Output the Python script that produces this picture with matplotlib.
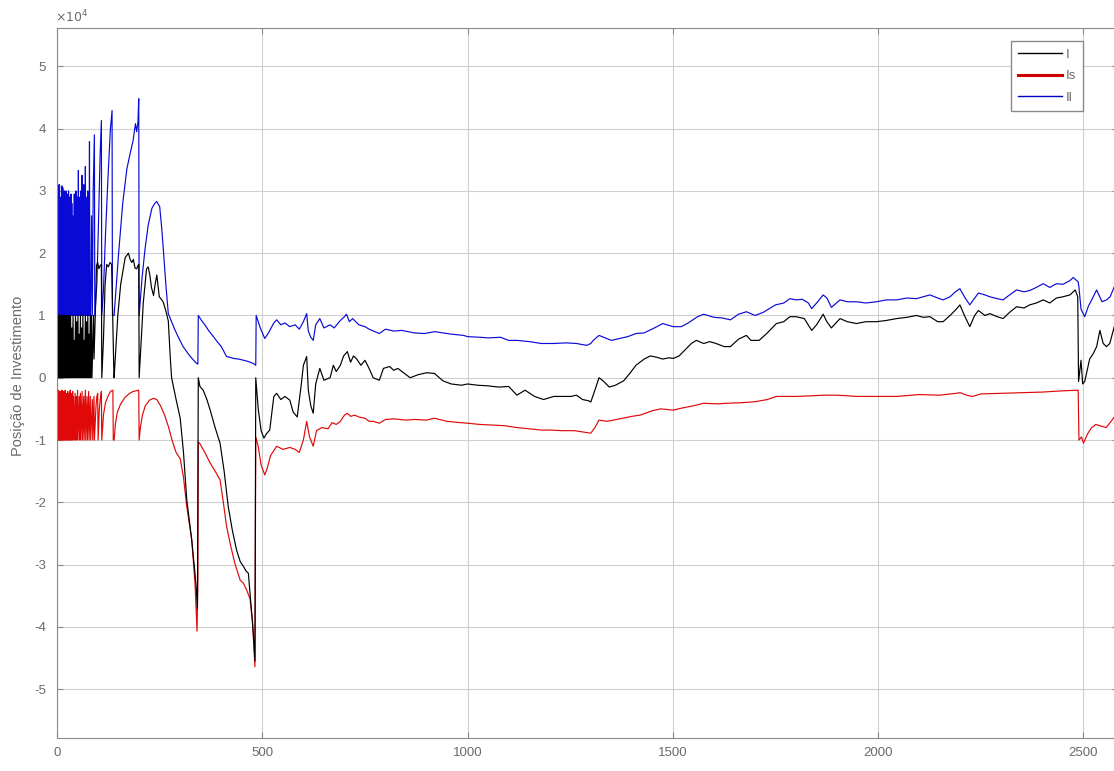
import numpy as np
import matplotlib
matplotlib.use('Agg')
import matplotlib.pyplot as plt
from matplotlib.ticker import FuncFormatter, MultipleLocator
from matplotlib.lines import Line2D

# valores, em unidades de 1e4
SCALE = 1e4

# Il (azul)
il_block_y = [3.1, 1.0, 3.1, 1.0, 3.05, 1.2, 3.1, 1.0, 2.9, 1.0,
              2.4, 1.0, 3.08, 1.0, 3.05, 1.0, 2.8, 1.0, 3.0, 1.0,
              2.7, 1.0, 3.0, 1.0, 2.2, 1.0, 2.95, 1.1, 3.0, 1.0,
              2.9, 1.0, 2.6, 1.0, 2.95, 1.0, 2.8, 1.0, 2.6, 1.0,
              2.1, 1.0, 2.95, 1.0, 2.7, 1.0, 3.0, 1.0, 2.75, 1.0,
              2.9, 1.0, 3.33, 1.0, 2.9, 1.0, 2.7, 1.0, 3.0, 1.0,
              2.6, 3.25, 1.0, 2.8, 1.0, 3.1, 1.0, 2.5, 1.0, 3.39,
              1.0, 2.9, 1.0, 2.6, 1.0, 3.0, 1.0, 2.2, 1.0, 3.79,
              1.0]
il_mid_x = [82, 84, 86, 88, 90, 91, 92, 97, 101, 105,
            108, 109, 113, 118, 124, 130, 134, 135, 139, 150,
            160, 170, 178, 185, 191, 194, 197, 199, 200, 207,
            214, 222, 231, 238, 243, 247, 250, 255, 259, 265,
            271, 279, 287, 297, 307, 320, 330, 340, 343, 344,
            352, 360, 370, 381, 390, 400, 413, 420, 430, 442,
            455, 466, 478, 484]
il_mid_y = [1.0, 2.6, 1.0, 3.0, 3.6, 3.9, 1.0, 1.5, 2.5, 3.6,
            4.13, 1.0, 1.4, 2.3, 3.2, 4.0, 4.29, 1.0, 1.0, 2.0,
            2.8, 3.35, 3.6, 3.8, 4.08, 3.95, 4.1, 4.48, 1.0, 1.6,
            2.05, 2.45, 2.72, 2.8, 2.83, 2.78, 2.75, 2.4, 2.05, 1.5,
            1.03, 0.9, 0.77, 0.63, 0.5, 0.38, 0.3, 0.23, 0.22, 1.0,
            0.92, 0.85, 0.75, 0.66, 0.58, 0.5, 0.34, 0.33, 0.31, 0.3,
            0.28, 0.26, 0.23, 0.2]
il_late_x = [485, 495, 506, 515, 528, 535, 545, 555, 567, 580,
             590, 600, 608, 612, 618, 624, 630, 640, 650, 665,
             675, 690, 700, 705, 712, 720, 735, 750, 760, 785,
             800, 820, 840, 870, 895, 920, 940, 960, 990, 1000,
             1030, 1050, 1080, 1100, 1120, 1150, 1180, 1210, 1240, 1265,
             1290, 1300, 1306, 1320, 1335, 1350, 1370, 1390, 1410, 1430,
             1455, 1475, 1501, 1520, 1535, 1560, 1575, 1600, 1620, 1640,
             1660, 1679, 1700, 1720, 1750, 1770, 1785, 1800, 1815, 1830,
             1838, 1850, 1866, 1875, 1886, 1907, 1925, 1947, 1970, 1996,
             2020, 2045, 2070, 2093, 2110, 2126, 2145, 2158, 2175, 2188,
             2199, 2210, 2223, 2244, 2260, 2272, 2290, 2304, 2320, 2337,
             2355, 2369, 2385, 2402, 2418, 2434, 2450, 2467, 2475, 2487,
             2489, 2494, 2503, 2512, 2520, 2532, 2545, 2556, 2565, 2575]
il_late_y = [1.0, 0.8, 0.63, 0.72, 0.88, 0.93, 0.85, 0.88, 0.82, 0.85,
             0.78, 0.9, 1.03, 0.75, 0.65, 0.6, 0.85, 0.95, 0.8, 0.85,
             0.8, 0.92, 0.98, 1.02, 0.9, 0.95, 0.85, 0.82, 0.78, 0.71,
             0.78, 0.75, 0.76, 0.72, 0.71, 0.74, 0.72, 0.7, 0.68, 0.66,
             0.65, 0.64, 0.65, 0.6, 0.6, 0.58, 0.55, 0.55, 0.56, 0.55,
             0.52, 0.55, 0.6, 0.68, 0.64, 0.6, 0.63, 0.66, 0.71, 0.72,
             0.8, 0.87, 0.82, 0.82, 0.87, 0.98, 1.02, 0.97, 0.96, 0.93,
             1.02, 1.06, 1.0, 1.05, 1.17, 1.2, 1.27, 1.25, 1.26, 1.2,
             1.11, 1.2, 1.33, 1.28, 1.13, 1.25, 1.22, 1.22, 1.2, 1.22,
             1.25, 1.25, 1.28, 1.27, 1.3, 1.33, 1.28, 1.25, 1.3, 1.38,
             1.43, 1.3, 1.17, 1.36, 1.33, 1.3, 1.27, 1.25, 1.33, 1.41,
             1.38, 1.4, 1.45, 1.51, 1.45, 1.51, 1.5, 1.56, 1.61, 1.54,
             1.45, 1.1, 0.98, 1.15, 1.25, 1.41, 1.22, 1.25, 1.3, 1.46]

# I (preto)
i_block_y = [1.0, 0, 1.0, 0, 1.0, 0, 1.0, 0, 1.0, 0,
             1.0, 0, 1.0, 0, 1.0, 0, 1.0, 0, 1.0, 0,
             1.0, 0, 1.0, 0, 1.0, 0, 1.0, 0, 1.0, 0,
             1.0, 0]
i_mid_x = [33, 34, 36, 37, 39, 40, 42, 43, 45, 46,
           48, 49, 51, 52, 54, 55, 57, 58, 60, 61,
           63, 64, 66, 67, 69, 70, 72, 73, 75, 76,
           78, 79, 81, 82, 84, 85, 89, 90, 94, 96,
           99, 102, 105, 108, 109, 113, 117, 121, 125, 129,
           133, 138, 139, 148, 155, 166, 174, 178, 182, 186,
           190, 194, 197, 199, 200, 205, 210, 218, 222, 226,
           230, 235, 239, 243, 249, 255, 259, 266, 271, 276,
           279, 290, 300, 308, 316, 328, 336, 340, 342, 344,
           348, 356, 365, 373, 385, 397, 407, 417, 427, 437,
           446, 454, 460, 466, 470, 474, 478, 482]
i_mid_y = [1.0, 0, 0.8, 0, 1.0, 0, 0.6, 0, 1.0, 0,
           0.9, 0, 1.0, 0, 0.7, 0, 1.0, 0, 0.8, 0,
           1.0, 0, 0.6, 0, 1.0, 0, 0.9, 0, 1.0, 0,
           0.7, 0, 1.0, 0, 1.0, 0, 1.0, 0.3, 1.2, 1.8,
           1.85, 1.75, 1.8, 1.82, 0, 0.6, 1.5, 1.82, 1.78, 1.85,
           1.82, 0.2, 0, 1.0, 1.5, 1.93, 2.0, 1.9, 1.85, 1.9,
           1.76, 1.75, 1.8, 1.82, 0, 0.6, 1.2, 1.75, 1.78, 1.65,
           1.45, 1.32, 1.5, 1.65, 1.3, 1.25, 1.21, 1.05, 0.91, 0.3,
           0, -0.35, -0.65, -1.2, -1.96, -2.6, -3.14, -3.46, -3.7, 0,
           -0.14, -0.2, -0.35, -0.52, -0.8, -1.05, -1.5, -2.07, -2.45, -2.76,
           -2.95, -3.03, -3.1, -3.14, -3.46, -3.8, -4.1, -4.55]
i_late_x = [484, 490, 497, 504, 510, 518, 528, 535, 545, 555,
            567, 575, 585, 595, 600, 608, 612, 618, 624, 630,
            640, 650, 665, 673, 680, 690, 698, 707, 715, 722,
            730, 740, 750, 760, 770, 785, 795, 810, 820, 830,
            840, 860, 880, 900, 919, 940, 960, 985, 1000, 1024,
            1050, 1075, 1100, 1120, 1140, 1163, 1185, 1210, 1230, 1252,
            1265, 1280, 1295, 1300, 1310, 1320, 1330, 1345, 1360, 1380,
            1395, 1410, 1430, 1445, 1460, 1475, 1490, 1501, 1515, 1530,
            1545, 1557, 1575, 1590, 1605, 1625, 1640, 1660, 1679, 1690,
            1710, 1730, 1752, 1770, 1785, 1800, 1820, 1838, 1850, 1866,
            1875, 1886, 1907, 1925, 1947, 1970, 1996, 2020, 2045, 2070,
            2093, 2110, 2126, 2145, 2158, 2175, 2190, 2199, 2210, 2223,
            2235, 2244, 2260, 2272, 2290, 2304, 2320, 2337, 2355, 2369,
            2385, 2402, 2418, 2434, 2450, 2467, 2480, 2486, 2488, 2494,
            2498, 2503, 2515, 2524, 2532, 2540, 2548, 2556, 2564, 2575]
i_late_y = [0, -0.5, -0.85, -0.97, -0.9, -0.84, -0.3, -0.25, -0.35, -0.3,
            -0.36, -0.55, -0.63, -0.1, 0.2, 0.34, -0.2, -0.45, -0.57, -0.1,
            0.15, -0.04, 0.0, 0.2, 0.1, 0.2, 0.35, 0.42, 0.25, 0.35,
            0.3, 0.2, 0.28, 0.15, 0.0, -0.04, 0.15, 0.18, 0.12, 0.15,
            0.1, 0.0, 0.05, 0.08, 0.07, -0.05, -0.1, -0.12, -0.1, -0.12,
            -0.13, -0.15, -0.14, -0.28, -0.2, -0.3, -0.35, -0.3, -0.3, -0.3,
            -0.28, -0.35, -0.37, -0.39, -0.2, 0.0, -0.05, -0.15, -0.12, -0.05,
            0.07, 0.2, 0.3, 0.35, 0.33, 0.3, 0.32, 0.31, 0.35, 0.45,
            0.55, 0.6, 0.55, 0.58, 0.55, 0.5, 0.5, 0.62, 0.68, 0.6,
            0.6, 0.72, 0.87, 0.9, 0.98, 0.98, 0.95, 0.76, 0.85, 1.02,
            0.9, 0.8, 0.95, 0.9, 0.87, 0.9, 0.9, 0.92, 0.95, 0.97,
            1.0, 0.97, 0.98, 0.9, 0.9, 1.0, 1.1, 1.17, 1.0, 0.82,
            1.0, 1.08, 1.0, 1.03, 0.98, 0.95, 1.05, 1.14, 1.12, 1.17,
            1.2, 1.25, 1.2, 1.28, 1.3, 1.33, 1.41, 1.3, -0.06, 0.28,
            -0.1, -0.06, 0.3, 0.39, 0.5, 0.76, 0.55, 0.5, 0.55, 0.82]

# Is (vermelho)
is_block_y = [-0.2, -1.0, -0.25, -1.0, -0.2, -1.0, -0.3, -1.0, -0.22, -1.0,
              -0.25, -1.0, -0.2, -1.0, -0.28, -1.0, -0.22, -1.0, -0.3, -1.0,
              -0.2, -1.0, -0.25, -1.0, -0.35, -1.0, -0.22, -1.0, -0.3, -1.0,
              -0.25, -1.0, -0.2, -1.0, -0.3, -1.0, -0.25, -1.0, -0.22, -1.0,
              -0.3]
is_mid_x = [42, 44, 45, 47, 48, 50, 51, 54, 55, 57,
            58, 61, 62, 65, 66, 69, 70, 73, 74, 77,
            78, 81, 82, 86, 87, 90, 91, 95, 97, 99,
            100, 103, 106, 108, 109, 113, 118, 124, 130, 136,
            137, 139, 142, 147, 155, 165, 175, 185, 199, 200,
            203, 208, 215, 225, 235, 243, 252, 262, 272, 280,
            290, 300, 308, 316, 328, 336, 341, 343, 344, 348,
            360, 373, 385, 397, 405, 413, 423, 433, 446, 454,
            462, 470, 476, 482]
is_mid_y = [-1.0, -0.25, -1.0, -0.3, -1.0, -0.2, -1.0, -0.3, -1.0, -0.25,
            -1.0, -0.22, -1.0, -0.3, -1.0, -0.2, -1.0, -0.3, -1.0, -0.22,
            -1.0, -0.3, -1.0, -0.35, -1.0, -0.3, -1.0, -0.45, -0.3, -0.25,
            -1.0, -0.5, -0.3, -0.22, -1.0, -0.6, -0.4, -0.3, -0.22, -0.2,
            -1.0, -1.0, -0.75, -0.55, -0.42, -0.32, -0.26, -0.22, -0.2, -1.0,
            -0.8, -0.6, -0.45, -0.36, -0.33, -0.35, -0.45, -0.6, -0.8, -1.0,
            -1.2, -1.3, -1.6, -2.07, -2.6, -3.3, -4.07, -3.2, -1.03, -1.06,
            -1.2, -1.37, -1.5, -1.64, -2.0, -2.39, -2.7, -2.98, -3.25, -3.3,
            -3.41, -3.55, -3.9, -4.64]
is_late_x = [484, 490, 497, 506, 512, 520, 535, 550, 567, 580,
             590, 600, 608, 615, 624, 632, 645, 660, 670, 680,
             690, 700, 707, 715, 725, 735, 750, 760, 770, 785,
             800, 820, 850, 870, 900, 919, 950, 980, 1000, 1030,
             1060, 1090, 1120, 1150, 1180, 1200, 1230, 1260, 1290, 1300,
             1310, 1320, 1340, 1370, 1400, 1420, 1450, 1470, 1501, 1520,
             1550, 1575, 1610, 1630, 1670, 1700, 1730, 1752, 1800, 1840,
             1866, 1900, 1950, 2000, 2045, 2100, 2150, 2190, 2200, 2215,
             2230, 2250, 2300, 2350, 2400, 2450, 2487, 2489, 2495, 2500,
             2510, 2520, 2530, 2545, 2555, 2565, 2575]
is_late_y = [-0.95, -1.1, -1.4, -1.56, -1.45, -1.25, -1.1, -1.15, -1.12, -1.15,
             -1.2, -1.0, -0.7, -0.95, -1.1, -0.85, -0.8, -0.82, -0.72, -0.75,
             -0.7, -0.6, -0.57, -0.62, -0.6, -0.63, -0.65, -0.7, -0.7, -0.73,
             -0.67, -0.66, -0.68, -0.67, -0.68, -0.65, -0.7, -0.72, -0.73, -0.75,
             -0.76, -0.77, -0.8, -0.82, -0.84, -0.84, -0.85, -0.85, -0.88, -0.89,
             -0.8, -0.68, -0.7, -0.66, -0.62, -0.6, -0.53, -0.5, -0.52, -0.49,
             -0.45, -0.41, -0.42, -0.41, -0.4, -0.385, -0.35, -0.3, -0.3, -0.29,
             -0.28, -0.28, -0.3, -0.3, -0.3, -0.27, -0.28, -0.25, -0.24, -0.28,
             -0.3, -0.26, -0.25, -0.24, -0.23, -0.21, -0.2, -1.0, -0.95, -1.05,
             -0.9, -0.8, -0.75, -0.78, -0.8, -0.72, -0.63]


def serie(block_y, mid_x, mid_y, late_x, late_y):
    x = list(range(len(block_y))) + mid_x + late_x
    y = list(block_y) + mid_y + late_y
    return np.array(x), np.array(y) * SCALE


il_x, il_y = serie(il_block_y, il_mid_x, il_mid_y, il_late_x, il_late_y)
i_x, i_y = serie(i_block_y, i_mid_x, i_mid_y, i_late_x, i_late_y)
is_x, is_y = serie(is_block_y, is_mid_x, is_mid_y, is_late_x, is_late_y)

plt.rcParams['font.family'] = ['Liberation Sans', 'DejaVu Sans']
txt = '#6a6a6a'

fig = plt.figure(figsize=(11.14, 7.71), dpi=100)
ax = fig.add_axes([0.0512, 0.0432, 0.952, 0.9208])

ax.plot(il_x, il_y, color='#0a0ad6', lw=0.85)
ax.plot(is_x, is_y, color='#e00808', lw=0.85)
ax.plot(i_x, i_y, color='#000000', lw=0.85)

ax.set_xlim(0, 2583)
ax.set_ylim(-5.78e4, 5.62e4)
ax.xaxis.set_major_locator(MultipleLocator(500))
ax.yaxis.set_major_locator(MultipleLocator(1e4))
# rotulos no estilo do matlab: hifen simples e fator x10^4 em cima
ax.yaxis.set_major_formatter(FuncFormatter(lambda v, p: '%g' % round(v / SCALE, 6)))
ax.xaxis.set_major_formatter(FuncFormatter(lambda v, p: '%g' % v))
ax.text(-0.002, 1.004, r'$\times10^{4}$', transform=ax.transAxes,
        ha='left', va='bottom', color=txt, fontsize=9)

ax.grid(True, color='#cfcfcf', lw=0.8)
ax.set_axisbelow(True)
ax.tick_params(direction='in', length=4, colors='#8a8a8a', labelcolor=txt,
               labelsize=9.5, top=True, right=True)
ax.tick_params(axis='y', pad=8)
ax.tick_params(axis='x', pad=7)
for s in ax.spines.values():
    s.set_color('#8a8a8a')
    s.set_linewidth(0.8)

ax.set_ylabel('Posição de Investimento', color=txt, fontsize=10.5)
ax.yaxis.set_label_coords(-0.030, 0.51)

handles = [Line2D([], [], color='#000000', lw=1.0),
           Line2D([], [], color='#d00000', lw=2.2),
           Line2D([], [], color='#0000c0', lw=1.0)]
leg = ax.legend(handles, ['I', 'Is', 'Il'], loc='upper right',
                bbox_to_anchor=(0.9677, 0.981), borderaxespad=0,
                fontsize=9.5, handlelength=3.3, labelspacing=0.7,
                handletextpad=0.3, borderpad=0.55, fancybox=False,
                framealpha=1, edgecolor='#8a8a8a')
for t in leg.get_texts():
    t.set_color(txt)

fig.savefig('out.png', dpi=100)
